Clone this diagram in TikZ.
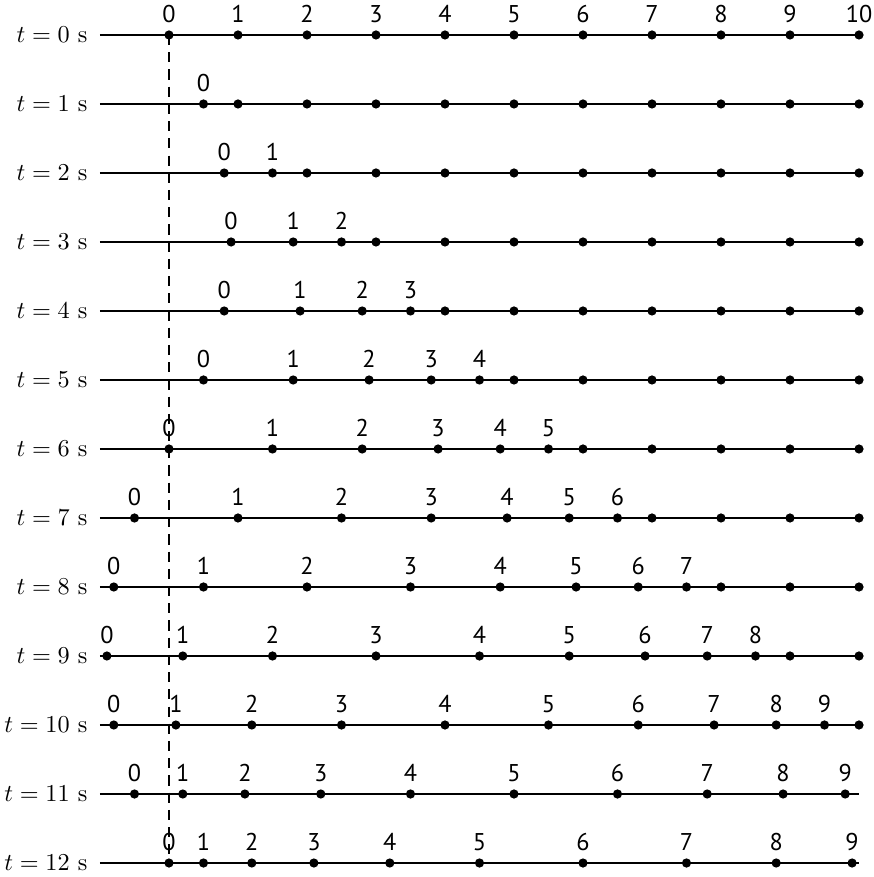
\documentclass[tikz,border=0pt]{standalone}
\usepackage{fontspec}
\newfontfamily\numfont{PT Sans}
\usetikzlibrary{positioning}

\begin{document}
\begin{tikzpicture}[
    dot/.style = {circle, fill, inner sep=0pt, minimum size=3.8pt},
    num/.style = {inner sep=1pt, font=\numfont},
    timelbl/.style = {inner sep=0pt},
    node distance = 1.7pt
  ]
  \useasboundingbox (-2.449,0.507) rectangle (10.203,-12.203);
  \def\disp{{0,.5,.8,.9,.8,.5,0,-.5,-.8,-.9,-.8,-.5,0}}
  \foreach \tm in {0,...,12} {
    \coordinate (start-\tm) at (-1,-\tm);
    \coordinate (end-\tm) at (10,-\tm);
    \node[timelbl, left=5pt of start-\tm] (time-\tm) {$t = \tm$~s};
    \draw[thick] (start-\tm) -- (end-\tm);
    \foreach \k in {0,...,10} {
      \pgfmathtruncatemacro\n{\tm-\k}
      \ifnum\n>0 \pgfmathsetmacro\x{\k+\disp[\n]}\else\pgfmathsetmacro\x{\k}\fi
      \pgfmathtruncatemacro\shown{(\tm==0)||(\n>0)}
      \ifdim\x pt<10.01pt
        \node[dot] (p-\tm-\k) at (\x,-\tm) {};
        \ifnum\shown=1
          \node[num, above=of p-\tm-\k] (n-\tm-\k) {\k};
        \fi
      \fi
    }
  }
  % fixed reference position
  \draw[thick, dash pattern=on 4.2pt off 2.9pt] (p-0-0.center) -- (p-12-0.center);
\end{tikzpicture}
\end{document}
